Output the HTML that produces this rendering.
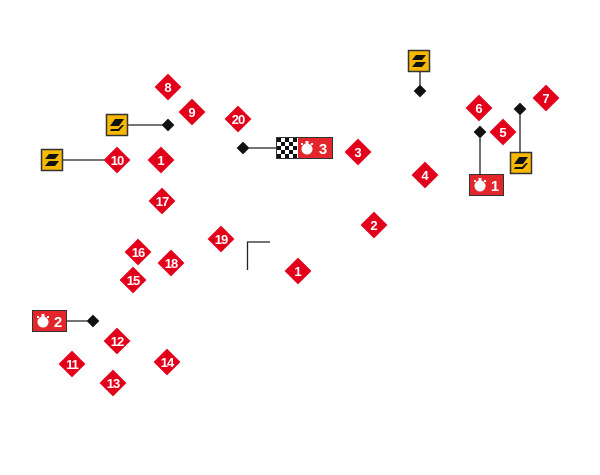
<!DOCTYPE html>
<html><head><style>html,body{margin:0;padding:0;background:#fff;width:600px;height:475px;overflow:hidden}</style></head>
<body>
<svg width="600" height="475" viewBox="0 0 600 475" xmlns="http://www.w3.org/2000/svg" font-family="Liberation Sans, sans-serif" font-weight="bold">
<defs>
<g id="d"><rect x="-9.5" y="-9.5" width="19" height="19" fill="#e3001b" transform="rotate(45)"/></g>
<g id="k"><rect x="-4.5" y="-4.5" width="9" height="9" fill="#111" transform="rotate(45)"/></g>
<g id="fz"><rect x="0.5" y="0.5" width="21" height="21" fill="#f7b800" stroke="#333" stroke-width="1.5"/><polygon points="8,5 18,5 14,10 4,10" fill="#111"/><polygon points="8,12 18,12 14,17 4,17" fill="#111"/></g>
<g id="fs"><rect x="0.5" y="0.5" width="21" height="21" fill="#f7b800" stroke="#333" stroke-width="1.5"/><polygon points="9,5 18,5 13,12 4,12" fill="#111"/><polygon points="16,11 18,11 13,17 4,17 5,15 12,15" fill="#111"/></g>
<g id="sw"><circle cx="0" cy="1" r="5.5" fill="#fff"/><rect x="-1.5" y="-7" width="3" height="3" fill="#fff"/><rect x="-6" y="-5" width="2" height="2" fill="#fff"/><rect x="4" y="-5" width="2" height="2" fill="#fff"/></g>
</defs>
<g stroke="#222" stroke-width="1.3" fill="none">
<line x1="128" y1="125" x2="168" y2="125"/>
<line x1="63" y1="160" x2="104" y2="160"/>
<line x1="243" y1="148" x2="276" y2="148"/>
<line x1="420" y1="72" x2="420" y2="91"/>
<line x1="480" y1="132" x2="480" y2="174"/>
<line x1="520" y1="109" x2="520" y2="152"/>
<line x1="67" y1="321" x2="93" y2="321"/>
<polyline points="270,242 247.5,242 247.5,270"/>
</g>
<use href="#k" x="168" y="125"/><use href="#k" x="243" y="148"/><use href="#k" x="420" y="91"/>
<use href="#k" x="480" y="132"/><use href="#k" x="520" y="109"/><use href="#k" x="93" y="321"/>
<use href="#fs" x="106" y="114"/><use href="#fz" x="41" y="149"/><use href="#fz" x="408" y="50"/><use href="#fs" x="510" y="152"/>
<!-- start box -->
<rect x="276.5" y="137.5" width="56" height="21" fill="#e3262c" stroke="#333"/>
<rect x="277" y="138" width="21" height="20" fill="#fff"/>
<g fill="#111">
<rect x="277" y="138" width="4" height="4"/><rect x="285" y="138" width="4" height="4"/><rect x="293" y="138" width="4" height="4"/>
<rect x="281" y="142" width="4" height="4"/><rect x="289" y="142" width="4" height="4"/>
<rect x="277" y="146" width="4" height="4"/><rect x="285" y="146" width="4" height="4"/><rect x="293" y="146" width="4" height="4"/>
<rect x="281" y="150" width="4" height="4"/><rect x="289" y="150" width="4" height="4"/>
<rect x="277" y="154" width="4" height="4"/><rect x="285" y="154" width="4" height="4"/><rect x="293" y="154" width="4" height="4"/>
</g>
<use href="#sw" x="307" y="148"/><text x="323" y="154" fill="#fff" font-size="15" text-anchor="middle">3</text>
<rect x="469.5" y="174.5" width="34" height="21" fill="#e3262c" stroke="#333"/>
<use href="#sw" x="480" y="185"/><text x="495" y="191" fill="#fff" font-size="15" text-anchor="middle">1</text>
<rect x="32.5" y="310.5" width="34" height="21" fill="#e3262c" stroke="#333"/>
<use href="#sw" x="43" y="321"/><text x="58" y="327" fill="#fff" font-size="15" text-anchor="middle">2</text>
<g fill="#fff" font-size="13" text-anchor="middle">
<use href="#d" x="168" y="87"/><text x="168" y="92">8</text>
<use href="#d" x="192" y="112"/><text x="192" y="117">9</text>
<use href="#d" x="238" y="119"/><text x="238" y="124" letter-spacing="-1">20</text>
<use href="#d" x="117" y="160"/><text x="117" y="165" letter-spacing="-1">10</text>
<use href="#d" x="161" y="160"/><text x="161" y="165">1</text>
<use href="#d" x="162" y="201"/><text x="162" y="206" letter-spacing="-1">17</text>
<use href="#d" x="358" y="152"/><text x="358" y="157">3</text>
<use href="#d" x="425" y="175"/><text x="425" y="180">4</text>
<use href="#d" x="374" y="225"/><text x="374" y="230">2</text>
<use href="#d" x="221" y="239"/><text x="221" y="244" letter-spacing="-1">19</text>
<use href="#d" x="138" y="252"/><text x="138" y="257" letter-spacing="-1">16</text>
<use href="#d" x="171" y="263"/><text x="171" y="268" letter-spacing="-1">18</text>
<use href="#d" x="133" y="280"/><text x="133" y="285" letter-spacing="-1">15</text>
<use href="#d" x="298" y="271"/><text x="298" y="276">1</text>
<use href="#d" x="117" y="341"/><text x="117" y="346" letter-spacing="-1">12</text>
<use href="#d" x="72" y="364"/><text x="72" y="369" letter-spacing="-1">11</text>
<use href="#d" x="167" y="362"/><text x="167" y="367" letter-spacing="-1">14</text>
<use href="#d" x="113" y="383"/><text x="113" y="388" letter-spacing="-1">13</text>
<use href="#d" x="479" y="108"/><text x="479" y="113">6</text>
<use href="#d" x="503" y="132"/><text x="503" y="137">5</text>
<use href="#d" x="546" y="98"/><text x="546" y="103">7</text>
</g>
</svg>
</body></html>
